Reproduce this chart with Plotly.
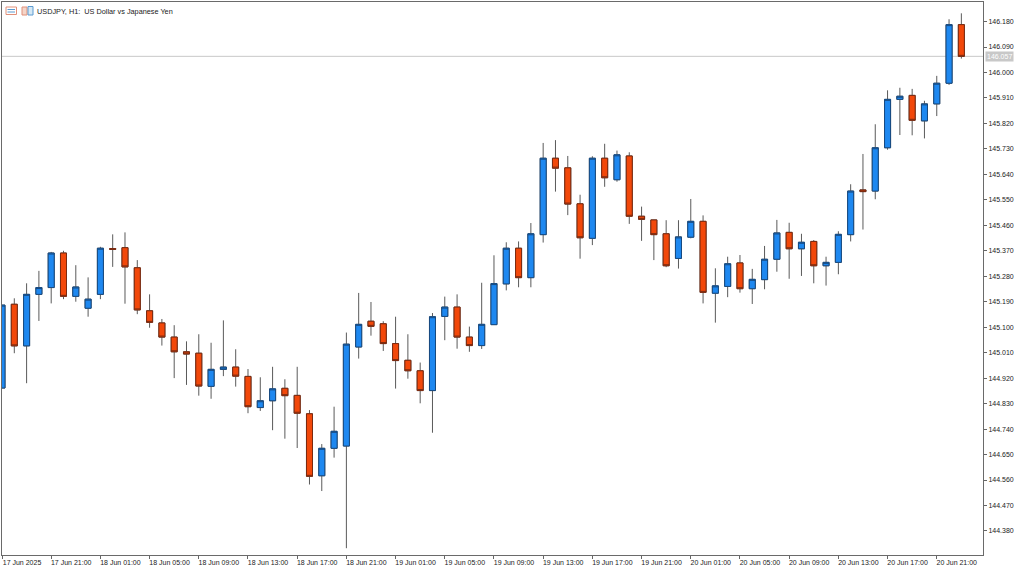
import plotly.graph_objects as go

# index 0 = 17 Jun 2025 17:00, one bar per hour
opens = [144.885,145.181,145.034,145.216,145.240,145.362,145.209,145.167,145.216,145.378,145.381,145.310,145.158,145.115,145.065,145.013,145.008,144.891,144.951,144.959,144.926,144.816,144.840,144.884,144.859,144.794,144.575,144.672,144.680,145.030,145.121,145.112,145.042,144.983,144.946,144.876,145.138,145.171,145.065,145.035,145.109,145.253,145.379,145.275,145.427,145.697,145.663,145.536,145.414,145.697,145.621,145.705,145.492,145.479,145.430,145.343,145.418,145.474,145.220,145.244,145.327,145.236,145.268,145.340,145.435,145.377,145.403,145.317,145.329,145.427,145.585,145.581,145.734,145.905,145.919,145.829,145.889,145.962,146.169]
highs = [145.178,145.202,145.255,145.299,145.366,145.370,145.319,145.276,145.384,145.428,145.435,145.337,145.216,145.129,145.107,145.050,145.075,145.045,145.124,145.022,144.952,144.923,144.960,144.916,144.960,144.807,144.687,144.819,145.081,145.221,145.189,145.121,145.137,145.075,144.975,145.150,145.208,145.216,145.102,145.257,145.354,145.400,145.403,145.468,145.751,145.761,145.705,145.568,145.704,145.748,145.724,145.718,145.526,145.479,145.478,145.478,145.553,145.495,145.308,145.349,145.355,145.306,145.387,145.479,145.469,145.430,145.408,145.349,145.439,145.605,145.712,145.817,145.937,145.946,145.942,145.900,145.988,146.188,146.209]
lows = [144.885,145.008,144.902,145.122,145.184,145.199,145.190,145.137,145.199,145.313,145.183,145.146,145.098,145.035,144.920,144.896,144.858,144.847,144.927,144.890,144.796,144.804,144.736,144.706,144.673,144.544,144.521,144.639,144.319,144.989,145.070,145.016,144.883,144.918,144.831,144.727,145.054,145.024,145.013,145.023,145.109,145.230,145.241,145.241,145.399,145.579,145.496,145.342,145.390,145.596,145.614,145.465,145.405,145.337,145.312,145.307,145.414,145.184,145.116,145.206,145.222,145.182,145.234,145.296,145.271,145.281,145.255,145.247,145.287,145.403,145.445,145.552,145.727,145.779,145.778,145.767,145.846,145.956,146.049]
closes = [145.178,145.034,145.216,145.240,145.362,145.209,145.242,145.199,145.379,145.375,145.313,145.161,145.117,145.065,145.013,145.005,144.892,144.951,144.959,144.927,144.819,144.840,144.882,144.858,144.796,144.573,144.672,144.732,145.040,145.110,145.103,145.042,144.982,144.946,144.876,145.137,145.171,145.065,145.035,145.110,145.254,145.379,145.275,145.430,145.697,145.662,145.535,145.416,145.697,145.628,145.709,145.492,145.481,145.427,145.317,145.419,145.474,145.223,145.246,145.324,145.236,145.269,145.340,145.433,145.377,145.400,145.317,145.329,145.428,145.581,145.579,145.734,145.905,145.916,145.831,145.889,145.962,146.169,146.057]
bar_index = list(range(len(opens)))

x_tick_index = list(range(0, 77, 4))
x_tick_labels = ["17 Jun 2025","17 Jun 21:00","18 Jun 01:00","18 Jun 05:00","18 Jun 09:00","18 Jun 13:00","18 Jun 17:00","18 Jun 21:00","19 Jun 01:00","19 Jun 05:00","19 Jun 09:00","19 Jun 13:00","19 Jun 17:00","19 Jun 21:00","20 Jun 01:00","20 Jun 05:00","20 Jun 09:00","20 Jun 13:00","20 Jun 17:00","20 Jun 21:00"]
y_ticks = [146.18,146.09,146.00,145.91,145.82,145.73,145.64,145.55,145.46,145.37,145.28,145.19,145.10,145.01,144.92,144.83,144.74,144.65,144.56,144.47,144.38]
last_price = 146.057
title_text = "USDJPY, H1:  US Dollar vs Japanese Yen"

WICK = "#5a5a5a"
FONT = dict(family="Liberation Sans", size=7, color="#222222")

body_top = [max(o, c) for o, c in zip(opens, closes)]
body_bot = [min(o, c) for o, c in zip(opens, closes)]

fig = go.Figure()
fig.add_trace(go.Candlestick(
    x=bar_index, open=opens, high=highs, low=lows, close=closes,
    whiskerwidth=0,
    increasing=dict(line=dict(color=WICK, width=1), fillcolor="#1e88f0"),
    decreasing=dict(line=dict(color=WICK, width=1), fillcolor="#f2480a"),
    showlegend=False, hoverinfo="skip"))
fig.add_trace(go.Candlestick(
    x=bar_index, open=opens, high=body_top, low=body_bot, close=closes,
    whiskerwidth=0,
    increasing=dict(line=dict(color="#174a80", width=1), fillcolor="#1e88f0"),
    decreasing=dict(line=dict(color="#7a2a10", width=1), fillcolor="#f2480a"),
    showlegend=False, hoverinfo="skip"))

fig.add_shape(type="line", xref="paper", yref="y", x0=0, x1=1, y0=last_price, y1=last_price,
              line=dict(color="#c8c8c8", width=1), layer="below")

fig.add_annotation(xref="paper", yref="y", x=1, y=last_price, xshift=2, xanchor="left", yanchor="middle",
                   text=f"{last_price:.3f}", showarrow=False, bgcolor="#c8c8c8",
                   font=dict(family="Liberation Sans", size=7, color="#ffffff"), borderpad=1)
fig.add_annotation(xref="paper", yref="paper", x=0, y=1, xshift=33, yshift=-3, xanchor="left", yanchor="top",
                   text=title_text, showarrow=False, font=dict(family="Liberation Sans", size=7.3, color="#222222"))

# the two small toolbar icons beside the title
def px(v): return (v - 2) / 981
def py(v): return (555 - v) / 553
def box(x0, y0, x1, y1, line, fill="rgba(0,0,0,0)"):
    fig.add_shape(type="rect", xref="paper", yref="paper", x0=px(x0), x1=px(x1), y0=py(y0), y1=py(y1),
                  line=dict(color=line, width=1), fillcolor=fill)
box(6, 7, 16.5, 14.5, "#e0907a", "#ffffff")
for ly in (9.5, 12):
    fig.add_shape(type="line", xref="paper", yref="paper", x0=px(7.5), x1=px(15), y0=py(ly), y1=py(ly),
                  line=dict(color="#5a9ad0", width=1))
box(22, 7, 27, 15, "#e0907a", "#f5d5c8")
box(28, 6.5, 33, 15, "#5a9ad0", "#d5e8f5")

fig.update_layout(
    width=1024, height=571, autosize=False,
    margin=dict(l=2, r=41, t=2, b=16),
    paper_bgcolor="#ffffff", plot_bgcolor="#ffffff",
    font=FONT, showlegend=False,
    xaxis=dict(
        range=[0, 79.76], rangeslider=dict(visible=False),
        tickmode="array", tickvals=x_tick_index, ticktext=x_tick_labels,
        ticks="outside", ticklen=3, tickcolor="#666666", tickwidth=1,
        showgrid=False, zeroline=False,
        showline=True, linecolor="#6a6a6a", linewidth=1, mirror=True,
        tickangle=0, ticklabelshift=20, ticklabelstandoff=-2, tickfont=FONT),
    yaxis=dict(
        side="right", range=[144.295, 146.249],
        tickmode="array", tickvals=y_ticks, tickformat=".3f",
        ticks="outside", ticklen=3, tickcolor="#666666", tickwidth=1,
        showgrid=False, zeroline=False,
        showline=True, linecolor="#6a6a6a", linewidth=1, mirror=True,
        tickfont=FONT),
)
fig.write_html("out.html", config=dict(displayModeBar=False),
               post_script="document.body.style.margin='0';document.documentElement.style.overflow='hidden';")
